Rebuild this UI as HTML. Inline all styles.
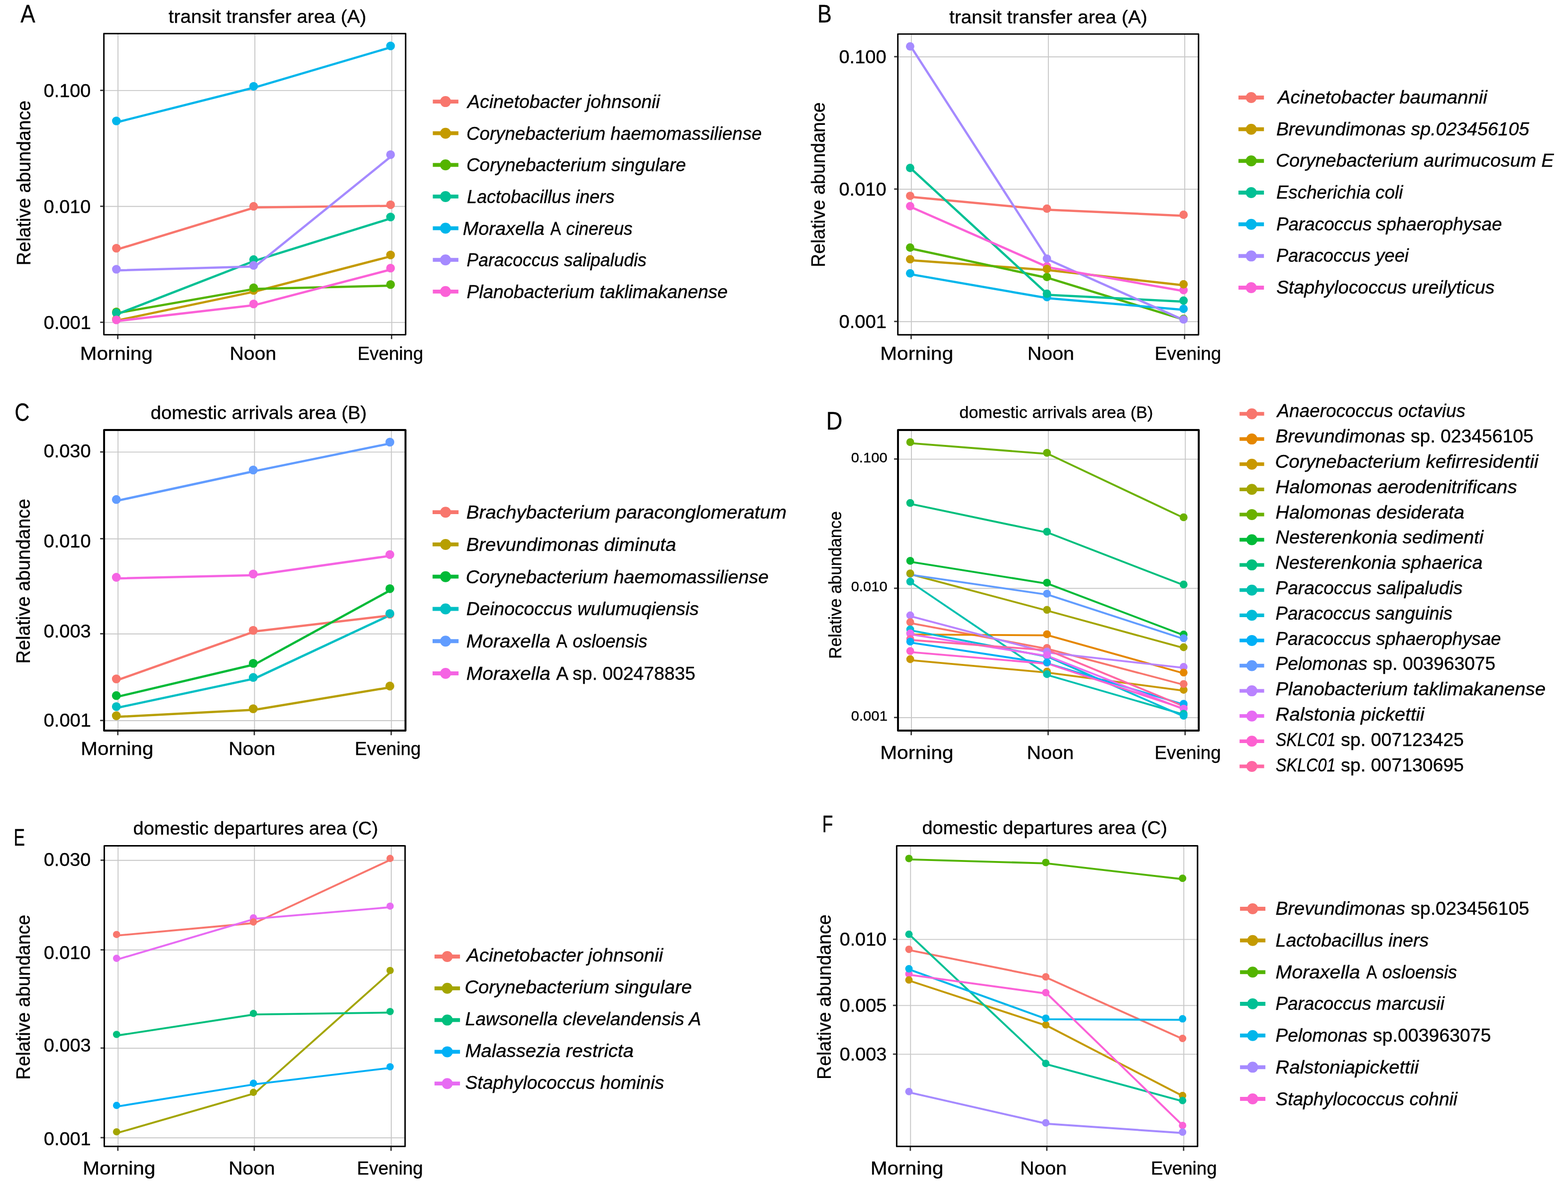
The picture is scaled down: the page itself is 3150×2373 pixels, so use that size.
<!DOCTYPE html>
<html lang="en"><head><meta charset="utf-8"><title>Relative abundance of species across time of day</title>
<style>
html,body{margin:0;padding:0;background:#fff;}
body{width:3150px;height:2373px;overflow:hidden;}
svg{display:block;font-family:"Liberation Sans",Arial,Helvetica,sans-serif;}
text{fill:#000;stroke:#000;stroke-width:0.35px;stroke-linejoin:round;}
</style></head><body>
<svg width="3150" height="2373" viewBox="0 0 3150 2373">
<rect x="0" y="0" width="3150" height="2373" fill="#fff"/>
<g>
<line x1="237.00" y1="67.50" x2="237.00" y2="672.60" stroke="#c8c8c8" stroke-width="1.90"/>
<line x1="512.00" y1="67.50" x2="512.00" y2="672.60" stroke="#c8c8c8" stroke-width="1.90"/>
<line x1="787.10" y1="67.50" x2="787.10" y2="672.60" stroke="#c8c8c8" stroke-width="1.90"/>
<line x1="208.70" y1="181.90" x2="814.90" y2="181.90" stroke="#c8c8c8" stroke-width="1.90"/>
<line x1="208.70" y1="414.80" x2="814.90" y2="414.80" stroke="#c8c8c8" stroke-width="1.90"/>
<line x1="208.70" y1="647.90" x2="814.90" y2="647.90" stroke="#c8c8c8" stroke-width="1.90"/>
<polyline points="236.50,500.90 512.20,416.80 787.30,413.60" fill="none" stroke="#F8766D" stroke-width="4.50" stroke-linejoin="round" stroke-linecap="butt"/>
<polyline points="236.50,643.60 512.20,585.80 787.30,514.40" fill="none" stroke="#C49A00" stroke-width="4.50" stroke-linejoin="round" stroke-linecap="butt"/>
<polyline points="236.50,628.90 512.20,580.40 787.30,574.00" fill="none" stroke="#53B400" stroke-width="4.50" stroke-linejoin="round" stroke-linecap="butt"/>
<polyline points="236.50,630.80 512.20,523.80 787.30,438.20" fill="none" stroke="#00C094" stroke-width="4.50" stroke-linejoin="round" stroke-linecap="butt"/>
<polyline points="236.50,245.20 512.20,175.60 787.30,94.40" fill="none" stroke="#00B6EB" stroke-width="4.50" stroke-linejoin="round" stroke-linecap="butt"/>
<polyline points="236.50,543.20 512.20,535.40 787.30,313.00" fill="none" stroke="#A58AFF" stroke-width="4.50" stroke-linejoin="round" stroke-linecap="butt"/>
<polyline points="236.50,644.90 512.20,612.90 787.30,541.00" fill="none" stroke="#FB61D7" stroke-width="4.50" stroke-linejoin="round" stroke-linecap="butt"/>
<circle cx="233.80" cy="498.70" r="8.75" fill="#F8766D"/>
<circle cx="233.80" cy="641.40" r="8.75" fill="#C49A00"/>
<circle cx="233.80" cy="626.70" r="8.75" fill="#53B400"/>
<circle cx="233.80" cy="628.60" r="8.75" fill="#00C094"/>
<circle cx="233.80" cy="243.00" r="8.75" fill="#00B6EB"/>
<circle cx="233.80" cy="541.00" r="8.75" fill="#A58AFF"/>
<circle cx="233.80" cy="642.70" r="8.75" fill="#FB61D7"/>
<circle cx="509.50" cy="414.60" r="8.75" fill="#F8766D"/>
<circle cx="509.50" cy="583.60" r="8.75" fill="#C49A00"/>
<circle cx="509.50" cy="578.20" r="8.75" fill="#53B400"/>
<circle cx="509.50" cy="521.60" r="8.75" fill="#00C094"/>
<circle cx="509.50" cy="173.40" r="8.75" fill="#00B6EB"/>
<circle cx="509.50" cy="533.20" r="8.75" fill="#A58AFF"/>
<circle cx="509.50" cy="610.70" r="8.75" fill="#FB61D7"/>
<circle cx="784.60" cy="411.40" r="8.75" fill="#F8766D"/>
<circle cx="784.60" cy="512.20" r="8.75" fill="#C49A00"/>
<circle cx="784.60" cy="571.80" r="8.75" fill="#53B400"/>
<circle cx="784.60" cy="436.00" r="8.75" fill="#00C094"/>
<circle cx="784.60" cy="92.20" r="8.75" fill="#00B6EB"/>
<circle cx="784.60" cy="310.80" r="8.75" fill="#A58AFF"/>
<circle cx="784.60" cy="538.80" r="8.75" fill="#FB61D7"/>
<rect x="208.70" y="67.50" width="606.20" height="605.10" fill="none" stroke="#000" stroke-width="2.90" stroke-linejoin="round"/>
<line x1="236.60" y1="674.05" x2="236.60" y2="681.35" stroke="#333333" stroke-width="2.70"/>
<line x1="511.60" y1="674.05" x2="511.60" y2="681.35" stroke="#333333" stroke-width="2.70"/>
<line x1="786.70" y1="674.05" x2="786.70" y2="681.35" stroke="#333333" stroke-width="2.70"/>
<line x1="201.25" y1="181.60" x2="207.25" y2="181.60" stroke="#333333" stroke-width="2.70"/>
<line x1="201.25" y1="414.50" x2="207.25" y2="414.50" stroke="#333333" stroke-width="2.70"/>
<line x1="201.25" y1="647.60" x2="207.25" y2="647.60" stroke="#333333" stroke-width="2.70"/>
<text transform="translate(87.79,195.20) scale(1.0163,1)" font-size="37.21">0.100</text>
<text transform="translate(87.79,428.10) scale(1.0163,1)" font-size="37.21">0.010</text>
<text transform="translate(87.78,661.20) scale(1.0205,1)" font-size="37.21">0.001</text>
<text transform="translate(160.77,722.60) scale(1.0987,1)" font-size="36.77">Morning</text>
<text transform="translate(461.57,722.60) scale(1.0635,1)" font-size="36.77">Noon</text>
<text transform="translate(718.17,722.60) scale(0.9946,1)" font-size="36.77">Evening</text>
<text transform="translate(338.62,45.90) scale(1.0227,1)" font-size="37.79">transit transfer area (A)</text>
<text transform="translate(41.20,45.30) scale(0.8798,1)" font-size="50.25">A</text>
<text transform="translate(60.50,533.30) rotate(-90) scale(0.9813,1)" font-size="38.23">Relative abundance</text>
<line x1="869.50" y1="204.10" x2="920.90" y2="204.10" stroke="#F8766D" stroke-width="7.80"/>
<circle cx="895.00" cy="204.10" r="11.00" fill="#F8766D"/>
<text transform="translate(939.07,217.00) scale(1.0261,1)" font-size="36.48" font-style="italic">Acinetobacter johnsonii</text>
<line x1="869.50" y1="267.72" x2="920.90" y2="267.72" stroke="#C49A00" stroke-width="7.80"/>
<circle cx="895.00" cy="267.72" r="11.00" fill="#C49A00"/>
<text transform="translate(936.98,280.65) scale(1.0064,1)" font-size="36.48" font-style="italic">Corynebacterium haemomassiliense</text>
<line x1="869.50" y1="331.34" x2="920.90" y2="331.34" stroke="#53B400" stroke-width="7.80"/>
<circle cx="895.00" cy="331.34" r="11.00" fill="#53B400"/>
<text transform="translate(936.97,344.30) scale(1.0118,1)" font-size="36.48" font-style="italic">Corynebacterium singulare</text>
<line x1="869.50" y1="394.96" x2="920.90" y2="394.96" stroke="#00C094" stroke-width="7.80"/>
<circle cx="895.00" cy="394.96" r="11.00" fill="#00C094"/>
<text transform="translate(937.92,407.95) scale(0.9891,1)" font-size="36.48" font-style="italic">Lactobacillus iners</text>
<line x1="869.50" y1="458.58" x2="920.90" y2="458.58" stroke="#00B6EB" stroke-width="7.80"/>
<circle cx="895.00" cy="458.58" r="11.00" fill="#00B6EB"/>
<text transform="translate(929.76,471.60) scale(1.0381,1)" font-size="36.48" font-style="italic">Moraxella</text>
<text transform="translate(1105.40,471.60) scale(0.8821,1)" font-size="36.48">A</text>
<text transform="translate(1137.24,471.60) scale(0.9685,1)" font-size="36.48" font-style="italic">cinereus</text>
<line x1="869.50" y1="522.20" x2="920.90" y2="522.20" stroke="#A58AFF" stroke-width="7.80"/>
<circle cx="895.00" cy="522.20" r="11.00" fill="#A58AFF"/>
<text transform="translate(937.53,535.25) scale(0.9740,1)" font-size="36.48" font-style="italic">Paracoccus salipaludis</text>
<line x1="869.50" y1="585.82" x2="920.90" y2="585.82" stroke="#FB61D7" stroke-width="7.80"/>
<circle cx="895.00" cy="585.82" r="11.00" fill="#FB61D7"/>
<text transform="translate(937.49,598.90) scale(1.0146,1)" font-size="36.48" font-style="italic">Planobacterium taklimakanense</text>
</g>
<g>
<line x1="1830.80" y1="68.40" x2="1830.80" y2="672.70" stroke="#c8c8c8" stroke-width="1.90"/>
<line x1="2106.10" y1="68.40" x2="2106.10" y2="672.70" stroke="#c8c8c8" stroke-width="1.90"/>
<line x1="2380.10" y1="68.40" x2="2380.10" y2="672.70" stroke="#c8c8c8" stroke-width="1.90"/>
<line x1="1803.70" y1="114.20" x2="2407.80" y2="114.20" stroke="#c8c8c8" stroke-width="1.90"/>
<line x1="1803.70" y1="380.20" x2="2407.80" y2="380.20" stroke="#c8c8c8" stroke-width="1.90"/>
<line x1="1803.70" y1="646.20" x2="2407.80" y2="646.20" stroke="#c8c8c8" stroke-width="1.90"/>
<polyline points="1831.10,395.80 2105.90,421.40 2380.40,433.70" fill="none" stroke="#F8766D" stroke-width="4.50" stroke-linejoin="round" stroke-linecap="butt"/>
<polyline points="1831.10,523.10 2105.90,542.70 2380.40,573.50" fill="none" stroke="#C49A00" stroke-width="4.50" stroke-linejoin="round" stroke-linecap="butt"/>
<polyline points="1831.10,499.70 2105.90,558.70 2380.40,642.90" fill="none" stroke="#53B400" stroke-width="4.50" stroke-linejoin="round" stroke-linecap="butt"/>
<polyline points="1831.10,339.70 2105.90,592.40 2380.40,606.20" fill="none" stroke="#00C094" stroke-width="4.50" stroke-linejoin="round" stroke-linecap="butt"/>
<polyline points="1831.10,551.40 2105.90,599.30 2380.40,622.70" fill="none" stroke="#00B6EB" stroke-width="4.50" stroke-linejoin="round" stroke-linecap="butt"/>
<polyline points="1831.10,95.50 2105.90,521.80 2380.40,644.10" fill="none" stroke="#A58AFF" stroke-width="4.50" stroke-linejoin="round" stroke-linecap="butt"/>
<polyline points="1831.10,416.50 2105.90,537.10 2380.40,585.30" fill="none" stroke="#FB61D7" stroke-width="4.50" stroke-linejoin="round" stroke-linecap="butt"/>
<circle cx="1828.40" cy="414.30" r="8.45" fill="#FB61D7"/>
<circle cx="1828.40" cy="549.20" r="8.45" fill="#00B6EB"/>
<circle cx="1828.40" cy="497.50" r="8.45" fill="#53B400"/>
<circle cx="1828.40" cy="520.90" r="8.45" fill="#C49A00"/>
<circle cx="1828.40" cy="337.50" r="8.45" fill="#00C094"/>
<circle cx="1828.40" cy="393.60" r="8.45" fill="#F8766D"/>
<circle cx="1828.40" cy="93.30" r="8.45" fill="#A58AFF"/>
<circle cx="2103.20" cy="534.90" r="8.45" fill="#FB61D7"/>
<circle cx="2103.20" cy="597.10" r="8.45" fill="#00B6EB"/>
<circle cx="2103.20" cy="556.50" r="8.45" fill="#53B400"/>
<circle cx="2103.20" cy="540.50" r="8.45" fill="#C49A00"/>
<circle cx="2103.20" cy="590.20" r="8.45" fill="#00C094"/>
<circle cx="2103.20" cy="419.20" r="8.45" fill="#F8766D"/>
<circle cx="2103.20" cy="519.60" r="8.45" fill="#A58AFF"/>
<circle cx="2377.70" cy="583.10" r="8.45" fill="#FB61D7"/>
<circle cx="2377.70" cy="620.50" r="8.45" fill="#00B6EB"/>
<circle cx="2377.70" cy="640.70" r="8.45" fill="#53B400"/>
<circle cx="2377.70" cy="571.30" r="8.45" fill="#C49A00"/>
<circle cx="2377.70" cy="604.00" r="8.45" fill="#00C094"/>
<circle cx="2377.70" cy="431.50" r="8.45" fill="#F8766D"/>
<circle cx="2377.70" cy="641.90" r="8.45" fill="#A58AFF"/>
<rect x="1803.70" y="68.40" width="604.10" height="604.30" fill="none" stroke="#000" stroke-width="2.90" stroke-linejoin="round"/>
<line x1="1830.40" y1="674.15" x2="1830.40" y2="681.45" stroke="#333333" stroke-width="2.70"/>
<line x1="2105.70" y1="674.15" x2="2105.70" y2="681.45" stroke="#333333" stroke-width="2.70"/>
<line x1="2379.70" y1="674.15" x2="2379.70" y2="681.45" stroke="#333333" stroke-width="2.70"/>
<line x1="1796.25" y1="113.90" x2="1802.25" y2="113.90" stroke="#333333" stroke-width="2.70"/>
<line x1="1796.25" y1="379.90" x2="1802.25" y2="379.90" stroke="#333333" stroke-width="2.70"/>
<line x1="1796.25" y1="645.90" x2="1802.25" y2="645.90" stroke="#333333" stroke-width="2.70"/>
<text transform="translate(1685.48,126.60) scale(1.0218,1)" font-size="37.21">0.100</text>
<text transform="translate(1685.48,392.60) scale(1.0218,1)" font-size="37.21">0.010</text>
<text transform="translate(1685.47,658.60) scale(1.0260,1)" font-size="37.21">0.001</text>
<text transform="translate(1768.14,722.60) scale(1.1066,1)" font-size="36.77">Morning</text>
<text transform="translate(2063.95,722.60) scale(1.0696,1)" font-size="36.77">Noon</text>
<text transform="translate(2319.84,722.60) scale(1.0048,1)" font-size="36.77">Evening</text>
<text transform="translate(1906.92,46.90) scale(1.0248,1)" font-size="37.79">transit transfer area (A)</text>
<text transform="translate(1642.28,44.90) scale(0.8716,1)" font-size="49.11">B</text>
<text transform="translate(1657.10,537.00) rotate(-90) scale(0.9816,1)" font-size="38.23">Relative abundance</text>
<line x1="2488.00" y1="196.00" x2="2539.20" y2="196.00" stroke="#F8766D" stroke-width="7.80"/>
<circle cx="2513.60" cy="196.00" r="11.00" fill="#F8766D"/>
<text transform="translate(2566.91,208.00) scale(1.0479,1)" font-size="36.48" font-style="italic">Acinetobacter baumannii</text>
<line x1="2488.00" y1="259.67" x2="2539.20" y2="259.67" stroke="#C49A00" stroke-width="7.80"/>
<circle cx="2513.60" cy="259.67" r="11.00" fill="#C49A00"/>
<text transform="translate(2563.88,271.67) scale(1.0272,1)" font-size="36.48" font-style="italic">Brevundimonas sp.023456105</text>
<line x1="2488.00" y1="323.34" x2="2539.20" y2="323.34" stroke="#53B400" stroke-width="7.80"/>
<circle cx="2513.60" cy="323.34" r="11.00" fill="#53B400"/>
<text transform="translate(2562.93,335.34) scale(1.0325,1)" font-size="36.48" font-style="italic">Corynebacterium aurimucosum E</text>
<line x1="2488.00" y1="387.01" x2="2539.20" y2="387.01" stroke="#00C094" stroke-width="7.80"/>
<circle cx="2513.60" cy="387.01" r="11.00" fill="#00C094"/>
<text transform="translate(2563.90,399.01) scale(1.0040,1)" font-size="36.48" font-style="italic">Escherichia coli</text>
<line x1="2488.00" y1="450.68" x2="2539.20" y2="450.68" stroke="#00B6EB" stroke-width="7.80"/>
<circle cx="2513.60" cy="450.68" r="11.00" fill="#00B6EB"/>
<text transform="translate(2563.90,462.68) scale(1.0073,1)" font-size="36.48" font-style="italic">Paracoccus sphaerophysae</text>
<line x1="2488.00" y1="514.35" x2="2539.20" y2="514.35" stroke="#A58AFF" stroke-width="7.80"/>
<circle cx="2513.60" cy="514.35" r="11.00" fill="#A58AFF"/>
<text transform="translate(2563.91,526.35) scale(0.9943,1)" font-size="36.48" font-style="italic">Paracoccus yeei</text>
<line x1="2488.00" y1="578.02" x2="2539.20" y2="578.02" stroke="#FB61D7" stroke-width="7.80"/>
<circle cx="2513.60" cy="578.02" r="11.00" fill="#FB61D7"/>
<text transform="translate(2563.88,590.02) scale(1.0251,1)" font-size="36.48" font-style="italic">Staphylococcus ureilyticus</text>
</g>
<g>
<line x1="237.10" y1="864.00" x2="237.10" y2="1468.00" stroke="#c8c8c8" stroke-width="1.90"/>
<line x1="511.30" y1="864.00" x2="511.30" y2="1468.00" stroke="#c8c8c8" stroke-width="1.90"/>
<line x1="786.30" y1="864.00" x2="786.30" y2="1468.00" stroke="#c8c8c8" stroke-width="1.90"/>
<line x1="209.10" y1="908.40" x2="814.60" y2="908.40" stroke="#c8c8c8" stroke-width="1.90"/>
<line x1="209.10" y1="1082.70" x2="814.60" y2="1082.70" stroke="#c8c8c8" stroke-width="1.90"/>
<line x1="209.10" y1="1273.70" x2="814.60" y2="1273.70" stroke="#c8c8c8" stroke-width="1.90"/>
<line x1="209.10" y1="1448.00" x2="814.60" y2="1448.00" stroke="#c8c8c8" stroke-width="1.90"/>
<polyline points="236.40,1366.30 511.40,1268.80 785.90,1236.40" fill="none" stroke="#F8766D" stroke-width="4.50" stroke-linejoin="round" stroke-linecap="butt"/>
<polyline points="236.40,1440.30 511.40,1426.30 785.90,1380.70" fill="none" stroke="#B79F00" stroke-width="4.50" stroke-linejoin="round" stroke-linecap="butt"/>
<polyline points="236.40,1399.90 511.40,1335.10 785.90,1185.00" fill="none" stroke="#00BA38" stroke-width="4.50" stroke-linejoin="round" stroke-linecap="butt"/>
<polyline points="236.40,1422.00 511.40,1363.40 785.90,1235.00" fill="none" stroke="#00BFC4" stroke-width="4.50" stroke-linejoin="round" stroke-linecap="butt"/>
<polyline points="236.40,1005.90 511.40,946.60 785.90,890.60" fill="none" stroke="#619CFF" stroke-width="4.50" stroke-linejoin="round" stroke-linecap="butt"/>
<polyline points="236.40,1162.20 511.40,1155.60 785.90,1116.50" fill="none" stroke="#F564E3" stroke-width="4.50" stroke-linejoin="round" stroke-linecap="butt"/>
<circle cx="233.70" cy="1364.10" r="8.90" fill="#F8766D"/>
<circle cx="233.70" cy="1438.10" r="8.90" fill="#B79F00"/>
<circle cx="233.70" cy="1397.70" r="8.90" fill="#00BA38"/>
<circle cx="233.70" cy="1419.80" r="8.90" fill="#00BFC4"/>
<circle cx="233.70" cy="1003.70" r="8.90" fill="#619CFF"/>
<circle cx="233.70" cy="1160.00" r="8.90" fill="#F564E3"/>
<circle cx="508.70" cy="1266.60" r="8.90" fill="#F8766D"/>
<circle cx="508.70" cy="1424.10" r="8.90" fill="#B79F00"/>
<circle cx="508.70" cy="1332.90" r="8.90" fill="#00BA38"/>
<circle cx="508.70" cy="1361.20" r="8.90" fill="#00BFC4"/>
<circle cx="508.70" cy="944.40" r="8.90" fill="#619CFF"/>
<circle cx="508.70" cy="1153.40" r="8.90" fill="#F564E3"/>
<circle cx="783.20" cy="1234.20" r="8.90" fill="#F8766D"/>
<circle cx="783.20" cy="1378.50" r="8.90" fill="#B79F00"/>
<circle cx="783.20" cy="1182.80" r="8.90" fill="#00BA38"/>
<circle cx="783.20" cy="1232.80" r="8.90" fill="#00BFC4"/>
<circle cx="783.20" cy="888.40" r="8.90" fill="#619CFF"/>
<circle cx="783.20" cy="1114.30" r="8.90" fill="#F564E3"/>
<rect x="209.10" y="864.00" width="605.50" height="604.00" fill="none" stroke="#000" stroke-width="3.90" stroke-linejoin="round"/>
<line x1="236.70" y1="1469.95" x2="236.70" y2="1477.25" stroke="#333333" stroke-width="2.70"/>
<line x1="510.90" y1="1469.95" x2="510.90" y2="1477.25" stroke="#333333" stroke-width="2.70"/>
<line x1="785.90" y1="1469.95" x2="785.90" y2="1477.25" stroke="#333333" stroke-width="2.70"/>
<line x1="201.15" y1="908.10" x2="207.15" y2="908.10" stroke="#333333" stroke-width="2.70"/>
<line x1="201.15" y1="1082.40" x2="207.15" y2="1082.40" stroke="#333333" stroke-width="2.70"/>
<line x1="201.15" y1="1273.40" x2="207.15" y2="1273.40" stroke="#333333" stroke-width="2.70"/>
<line x1="201.15" y1="1447.70" x2="207.15" y2="1447.70" stroke="#333333" stroke-width="2.70"/>
<text transform="translate(87.68,918.70) scale(1.0185,1)" font-size="37.21">0.030</text>
<text transform="translate(87.68,1099.60) scale(1.0185,1)" font-size="37.21">0.010</text>
<text transform="translate(87.68,1280.60) scale(1.0206,1)" font-size="37.21">0.003</text>
<text transform="translate(87.68,1460.40) scale(1.0227,1)" font-size="37.21">0.001</text>
<text transform="translate(162.37,1516.60) scale(1.0987,1)" font-size="36.77">Morning</text>
<text transform="translate(459.26,1516.60) scale(1.0672,1)" font-size="36.77">Noon</text>
<text transform="translate(712.76,1516.60) scale(0.9993,1)" font-size="36.77">Evening</text>
<text transform="translate(302.47,842.20) scale(1.0092,1)" font-size="37.79">domestic arrivals area (B)</text>
<text transform="translate(29.43,846.20) scale(0.8410,1)" font-size="49.25">C</text>
<text transform="translate(60.00,1333.60) rotate(-90) scale(0.9816,1)" font-size="38.23">Relative abundance</text>
<line x1="869.00" y1="1029.20" x2="921.20" y2="1029.20" stroke="#F8766D" stroke-width="7.80"/>
<circle cx="895.10" cy="1029.20" r="11.00" fill="#F8766D"/>
<text transform="translate(936.74,1042.00) scale(1.0579,1)" font-size="36.48" font-style="italic">Brachybacterium paraconglomeratum</text>
<line x1="869.00" y1="1093.96" x2="921.20" y2="1093.96" stroke="#B79F00" stroke-width="7.80"/>
<circle cx="895.10" cy="1093.96" r="11.00" fill="#B79F00"/>
<text transform="translate(936.75,1106.76) scale(1.0501,1)" font-size="36.48" font-style="italic">Brevundimonas diminuta</text>
<line x1="869.00" y1="1158.72" x2="921.20" y2="1158.72" stroke="#00BA38" stroke-width="7.80"/>
<circle cx="895.10" cy="1158.72" r="11.00" fill="#00BA38"/>
<text transform="translate(935.83,1171.52) scale(1.0311,1)" font-size="36.48" font-style="italic">Corynebacterium haemomassiliense</text>
<line x1="869.00" y1="1223.48" x2="921.20" y2="1223.48" stroke="#00BFC4" stroke-width="7.80"/>
<circle cx="895.10" cy="1223.48" r="11.00" fill="#00BFC4"/>
<text transform="translate(936.78,1236.28) scale(1.0191,1)" font-size="36.48" font-style="italic">Deinococcus wulumuqiensis</text>
<line x1="869.00" y1="1288.24" x2="921.20" y2="1288.24" stroke="#619CFF" stroke-width="7.80"/>
<circle cx="895.10" cy="1288.24" r="11.00" fill="#619CFF"/>
<text transform="translate(936.73,1301.04) scale(1.0688,1)" font-size="36.48" font-style="italic">Moraxella</text>
<text transform="translate(1117.20,1301.04) scale(0.9192,1)" font-size="36.48">A</text>
<text transform="translate(1150.42,1301.04) scale(0.9873,1)" font-size="36.48" font-style="italic">osloensis</text>
<line x1="869.00" y1="1353.00" x2="921.20" y2="1353.00" stroke="#F564E3" stroke-width="7.80"/>
<circle cx="895.10" cy="1353.00" r="11.00" fill="#F564E3"/>
<text transform="translate(936.73,1365.80) scale(1.0688,1)" font-size="36.48" font-style="italic">Moraxella</text>
<text transform="translate(1117.20,1365.80) scale(1.0219,1)" font-size="36.48">A sp. 002478835</text>
</g>
<g>
<line x1="1831.00" y1="864.00" x2="1831.00" y2="1468.00" stroke="#c8c8c8" stroke-width="1.90"/>
<line x1="2106.00" y1="864.00" x2="2106.00" y2="1468.00" stroke="#c8c8c8" stroke-width="1.90"/>
<line x1="2381.20" y1="864.00" x2="2381.20" y2="1468.00" stroke="#c8c8c8" stroke-width="1.90"/>
<line x1="1804.00" y1="922.60" x2="2408.20" y2="922.60" stroke="#c8c8c8" stroke-width="1.90"/>
<line x1="1804.00" y1="1182.30" x2="2408.20" y2="1182.30" stroke="#c8c8c8" stroke-width="1.90"/>
<line x1="1804.00" y1="1442.00" x2="2408.20" y2="1442.00" stroke="#c8c8c8" stroke-width="1.90"/>
<polyline points="1831.00,1252.30 2105.70,1304.10 2380.20,1376.50" fill="none" stroke="#F8766D" stroke-width="3.80" stroke-linejoin="round" stroke-linecap="butt"/>
<polyline points="1831.00,1274.80 2105.70,1276.60 2380.20,1353.50" fill="none" stroke="#E58700" stroke-width="3.80" stroke-linejoin="round" stroke-linecap="butt"/>
<polyline points="1831.00,1326.70 2105.70,1351.60 2380.20,1388.20" fill="none" stroke="#C99800" stroke-width="3.80" stroke-linejoin="round" stroke-linecap="butt"/>
<polyline points="1831.00,1154.30 2105.70,1227.50 2380.20,1302.70" fill="none" stroke="#A3A500" stroke-width="3.80" stroke-linejoin="round" stroke-linecap="butt"/>
<polyline points="1831.00,890.60 2105.70,912.10 2380.20,1041.60" fill="none" stroke="#6BB100" stroke-width="3.80" stroke-linejoin="round" stroke-linecap="butt"/>
<polyline points="1831.00,1129.10 2105.70,1173.10 2380.20,1277.20" fill="none" stroke="#00BA38" stroke-width="3.80" stroke-linejoin="round" stroke-linecap="butt"/>
<polyline points="1831.00,1012.80 2105.70,1070.50 2380.20,1176.60" fill="none" stroke="#00BF7D" stroke-width="3.80" stroke-linejoin="round" stroke-linecap="butt"/>
<polyline points="1831.00,1170.80 2105.70,1356.70 2380.20,1436.40" fill="none" stroke="#00C0AF" stroke-width="3.80" stroke-linejoin="round" stroke-linecap="butt"/>
<polyline points="1831.00,1266.80 2105.70,1319.90 2380.20,1440.30" fill="none" stroke="#00BCD8" stroke-width="3.80" stroke-linejoin="round" stroke-linecap="butt"/>
<polyline points="1831.00,1291.30 2105.70,1333.20 2380.20,1416.30" fill="none" stroke="#00B0F6" stroke-width="3.80" stroke-linejoin="round" stroke-linecap="butt"/>
<polyline points="1831.00,1155.20 2105.70,1195.10 2380.20,1284.50" fill="none" stroke="#619CFF" stroke-width="3.80" stroke-linejoin="round" stroke-linecap="butt"/>
<polyline points="1831.00,1238.70 2105.70,1311.40 2380.20,1342.20" fill="none" stroke="#B983FF" stroke-width="3.80" stroke-linejoin="round" stroke-linecap="butt"/>
<polyline points="1831.00,1274.80 2105.70,1318.40 2380.20,1426.10" fill="none" stroke="#E76BF3" stroke-width="3.80" stroke-linejoin="round" stroke-linecap="butt"/>
<polyline points="1831.00,1310.40 2105.70,1333.80 2380.20,1424.50" fill="none" stroke="#FD61D1" stroke-width="3.80" stroke-linejoin="round" stroke-linecap="butt"/>
<polyline points="1831.00,1286.00 2105.70,1306.70 2380.20,1419.90" fill="none" stroke="#FF67A4" stroke-width="3.80" stroke-linejoin="round" stroke-linecap="butt"/>
<circle cx="1828.60" cy="888.40" r="7.90" fill="#6BB100"/>
<circle cx="1828.60" cy="1010.60" r="7.90" fill="#00BF7D"/>
<circle cx="1828.60" cy="1126.90" r="7.90" fill="#00BA38"/>
<circle cx="1828.60" cy="1153.00" r="7.90" fill="#619CFF"/>
<circle cx="1828.60" cy="1152.10" r="7.90" fill="#A3A500"/>
<circle cx="1828.60" cy="1168.60" r="7.90" fill="#00C0AF"/>
<circle cx="1828.60" cy="1236.50" r="7.90" fill="#B983FF"/>
<circle cx="1828.60" cy="1250.10" r="7.90" fill="#F8766D"/>
<circle cx="1828.60" cy="1272.60" r="7.90" fill="#E58700"/>
<circle cx="1828.60" cy="1264.60" r="7.90" fill="#00BCD8"/>
<circle cx="1828.60" cy="1272.60" r="7.90" fill="#E76BF3"/>
<circle cx="1828.60" cy="1283.80" r="7.90" fill="#FF67A4"/>
<circle cx="1828.60" cy="1289.10" r="7.90" fill="#00B0F6"/>
<circle cx="1828.60" cy="1308.20" r="7.90" fill="#FD61D1"/>
<circle cx="1828.60" cy="1324.50" r="7.90" fill="#C99800"/>
<circle cx="2103.30" cy="909.90" r="7.90" fill="#6BB100"/>
<circle cx="2103.30" cy="1068.30" r="7.90" fill="#00BF7D"/>
<circle cx="2103.30" cy="1170.90" r="7.90" fill="#00BA38"/>
<circle cx="2103.30" cy="1192.90" r="7.90" fill="#619CFF"/>
<circle cx="2103.30" cy="1225.30" r="7.90" fill="#A3A500"/>
<circle cx="2103.30" cy="1274.40" r="7.90" fill="#E58700"/>
<circle cx="2103.30" cy="1304.50" r="7.90" fill="#FF67A4"/>
<circle cx="2103.30" cy="1301.90" r="7.90" fill="#F8766D"/>
<circle cx="2103.30" cy="1309.20" r="7.90" fill="#B983FF"/>
<circle cx="2103.30" cy="1317.70" r="7.90" fill="#00BCD8"/>
<circle cx="2103.30" cy="1316.20" r="7.90" fill="#E76BF3"/>
<circle cx="2103.30" cy="1331.60" r="7.90" fill="#FD61D1"/>
<circle cx="2103.30" cy="1331.00" r="7.90" fill="#00B0F6"/>
<circle cx="2103.30" cy="1349.40" r="7.90" fill="#C99800"/>
<circle cx="2103.30" cy="1354.50" r="7.90" fill="#00C0AF"/>
<circle cx="2377.80" cy="1039.40" r="7.90" fill="#6BB100"/>
<circle cx="2377.80" cy="1174.40" r="7.90" fill="#00BF7D"/>
<circle cx="2377.80" cy="1275.00" r="7.90" fill="#00BA38"/>
<circle cx="2377.80" cy="1282.30" r="7.90" fill="#619CFF"/>
<circle cx="2377.80" cy="1300.50" r="7.90" fill="#A3A500"/>
<circle cx="2377.80" cy="1340.00" r="7.90" fill="#B983FF"/>
<circle cx="2377.80" cy="1351.30" r="7.90" fill="#E58700"/>
<circle cx="2377.80" cy="1386.00" r="7.90" fill="#C99800"/>
<circle cx="2377.80" cy="1374.30" r="7.90" fill="#F8766D"/>
<circle cx="2377.80" cy="1417.70" r="7.90" fill="#FF67A4"/>
<circle cx="2377.80" cy="1422.30" r="7.90" fill="#FD61D1"/>
<circle cx="2377.80" cy="1414.10" r="7.90" fill="#00B0F6"/>
<circle cx="2377.80" cy="1423.90" r="7.90" fill="#E76BF3"/>
<circle cx="2377.80" cy="1434.20" r="7.90" fill="#00C0AF"/>
<circle cx="2377.80" cy="1438.10" r="7.90" fill="#00BCD8"/>
<rect x="1804.00" y="864.00" width="604.20" height="604.00" fill="none" stroke="#000" stroke-width="3.90" stroke-linejoin="round"/>
<line x1="1830.60" y1="1469.95" x2="1830.60" y2="1477.25" stroke="#333333" stroke-width="2.70"/>
<line x1="2105.60" y1="1469.95" x2="2105.60" y2="1477.25" stroke="#333333" stroke-width="2.70"/>
<line x1="2380.80" y1="1469.95" x2="2380.80" y2="1477.25" stroke="#333333" stroke-width="2.70"/>
<line x1="1796.05" y1="922.30" x2="1802.05" y2="922.30" stroke="#333333" stroke-width="2.70"/>
<line x1="1796.05" y1="1182.00" x2="1802.05" y2="1182.00" stroke="#333333" stroke-width="2.70"/>
<line x1="1796.05" y1="1441.70" x2="1802.05" y2="1441.70" stroke="#333333" stroke-width="2.70"/>
<text transform="translate(1709.63,928.60) scale(1.0248,1)" font-size="28.49">0.100</text>
<text transform="translate(1709.63,1188.30) scale(1.0248,1)" font-size="28.49">0.010</text>
<text transform="translate(1709.63,1448.00) scale(1.0291,1)" font-size="28.49">0.001</text>
<text transform="translate(1768.14,1525.00) scale(1.1097,1)" font-size="36.77">Morning</text>
<text transform="translate(2062.85,1525.00) scale(1.0720,1)" font-size="36.77">Noon</text>
<text transform="translate(2319.55,1525.00) scale(1.0024,1)" font-size="36.77">Evening</text>
<text transform="translate(1927.33,840.00) scale(1.0131,1)" font-size="33.72">domestic arrivals area (B)</text>
<text transform="translate(1659.68,862.60) scale(0.9180,1)" font-size="49.25">D</text>
<text transform="translate(1690.00,1323.68) rotate(-90) scale(0.9824,1)" font-size="34.16">Relative abundance</text>
<line x1="2490.20" y1="831.50" x2="2539.60" y2="831.50" stroke="#F8766D" stroke-width="7.30"/>
<circle cx="2514.90" cy="831.50" r="11.00" fill="#F8766D"/>
<text transform="translate(2565.54,838.40) scale(1.0087,1)" font-size="36.48" font-style="italic">Anaerococcus octavius</text>
<line x1="2490.20" y1="882.10" x2="2539.60" y2="882.10" stroke="#E58700" stroke-width="7.30"/>
<circle cx="2514.90" cy="882.10" r="11.00" fill="#E58700"/>
<text transform="translate(2562.58,889.20) scale(1.0277,1)" font-size="36.48" font-style="italic">Brevundimonas</text>
<text transform="translate(2833.97,889.20) scale(1.0228,1)" font-size="36.48">sp. 023456105</text>
<line x1="2490.20" y1="932.70" x2="2539.60" y2="932.70" stroke="#C99800" stroke-width="7.30"/>
<circle cx="2514.90" cy="932.70" r="11.00" fill="#C99800"/>
<text transform="translate(2561.59,940.00) scale(1.0520,1)" font-size="36.48" font-style="italic">Corynebacterium kefirresidentii</text>
<line x1="2490.20" y1="983.30" x2="2539.60" y2="983.30" stroke="#A3A500" stroke-width="7.30"/>
<circle cx="2514.90" cy="983.30" r="11.00" fill="#A3A500"/>
<text transform="translate(2562.55,990.80) scale(1.0495,1)" font-size="36.48" font-style="italic">Halomonas aerodenitrificans</text>
<line x1="2490.20" y1="1033.90" x2="2539.60" y2="1033.90" stroke="#6BB100" stroke-width="7.30"/>
<circle cx="2514.90" cy="1033.90" r="11.00" fill="#6BB100"/>
<text transform="translate(2562.56,1041.60) scale(1.0391,1)" font-size="36.48" font-style="italic">Halomonas desiderata</text>
<line x1="2490.20" y1="1084.50" x2="2539.60" y2="1084.50" stroke="#00BA38" stroke-width="7.30"/>
<circle cx="2514.90" cy="1084.50" r="11.00" fill="#00BA38"/>
<text transform="translate(2562.56,1092.40) scale(1.0403,1)" font-size="36.48" font-style="italic">Nesterenkonia sedimenti</text>
<line x1="2490.20" y1="1135.10" x2="2539.60" y2="1135.10" stroke="#00BF7D" stroke-width="7.30"/>
<circle cx="2514.90" cy="1135.10" r="11.00" fill="#00BF7D"/>
<text transform="translate(2562.57,1143.20) scale(1.0309,1)" font-size="36.48" font-style="italic">Nesterenkonia sphaerica</text>
<line x1="2490.20" y1="1185.70" x2="2539.60" y2="1185.70" stroke="#00C0AF" stroke-width="7.30"/>
<circle cx="2514.90" cy="1185.70" r="11.00" fill="#00C0AF"/>
<text transform="translate(2562.59,1194.00) scale(1.0127,1)" font-size="36.48" font-style="italic">Paracoccus salipaludis</text>
<line x1="2490.20" y1="1236.30" x2="2539.60" y2="1236.30" stroke="#00BCD8" stroke-width="7.30"/>
<circle cx="2514.90" cy="1236.30" r="11.00" fill="#00BCD8"/>
<text transform="translate(2562.60,1244.80) scale(1.0013,1)" font-size="36.48" font-style="italic">Paracoccus sanguinis</text>
<line x1="2490.20" y1="1286.90" x2="2539.60" y2="1286.90" stroke="#00B0F6" stroke-width="7.30"/>
<circle cx="2514.90" cy="1286.90" r="11.00" fill="#00B0F6"/>
<text transform="translate(2562.60,1295.60) scale(1.0066,1)" font-size="36.48" font-style="italic">Paracoccus sphaerophysae</text>
<line x1="2490.20" y1="1337.50" x2="2539.60" y2="1337.50" stroke="#619CFF" stroke-width="7.30"/>
<circle cx="2514.90" cy="1337.50" r="11.00" fill="#619CFF"/>
<text transform="translate(2562.59,1346.40) scale(1.0107,1)" font-size="36.48" font-style="italic">Pelomonas</text>
<text transform="translate(2757.97,1346.40) scale(1.0207,1)" font-size="36.48">sp. 003963075</text>
<line x1="2490.20" y1="1388.10" x2="2539.60" y2="1388.10" stroke="#B983FF" stroke-width="7.30"/>
<circle cx="2514.90" cy="1388.10" r="11.00" fill="#B983FF"/>
<text transform="translate(2562.55,1397.20) scale(1.0496,1)" font-size="36.48" font-style="italic">Planobacterium taklimakanense</text>
<line x1="2490.20" y1="1438.70" x2="2539.60" y2="1438.70" stroke="#E76BF3" stroke-width="7.30"/>
<circle cx="2514.90" cy="1438.70" r="11.00" fill="#E76BF3"/>
<text transform="translate(2562.55,1448.00) scale(1.0538,1)" font-size="36.48" font-style="italic">Ralstonia pickettii</text>
<line x1="2490.20" y1="1489.30" x2="2539.60" y2="1489.30" stroke="#FD61D1" stroke-width="7.30"/>
<circle cx="2514.90" cy="1489.30" r="11.00" fill="#FD61D1"/>
<text transform="translate(2562.73,1498.80) scale(0.8876,1)" font-size="36.48" font-style="italic">SKLC01</text>
<text transform="translate(2693.77,1498.80) scale(1.0232,1)" font-size="36.48">sp. 007123425</text>
<line x1="2490.20" y1="1539.90" x2="2539.60" y2="1539.90" stroke="#FF67A4" stroke-width="7.30"/>
<circle cx="2514.90" cy="1539.90" r="11.00" fill="#FF67A4"/>
<text transform="translate(2562.73,1549.60) scale(0.8876,1)" font-size="36.48" font-style="italic">SKLC01</text>
<text transform="translate(2693.77,1549.60) scale(1.0232,1)" font-size="36.48">sp. 007130695</text>
</g>
<g>
<line x1="237.20" y1="1699.40" x2="237.20" y2="2303.60" stroke="#c8c8c8" stroke-width="1.90"/>
<line x1="511.20" y1="1699.40" x2="511.20" y2="2303.60" stroke="#c8c8c8" stroke-width="1.90"/>
<line x1="786.00" y1="1699.40" x2="786.00" y2="2303.60" stroke="#c8c8c8" stroke-width="1.90"/>
<line x1="209.50" y1="1728.70" x2="813.80" y2="1728.70" stroke="#c8c8c8" stroke-width="1.90"/>
<line x1="209.50" y1="1908.80" x2="813.80" y2="1908.80" stroke="#c8c8c8" stroke-width="1.90"/>
<line x1="209.50" y1="2106.20" x2="813.80" y2="2106.20" stroke="#c8c8c8" stroke-width="1.90"/>
<line x1="209.50" y1="2286.20" x2="813.80" y2="2286.20" stroke="#c8c8c8" stroke-width="1.90"/>
<polyline points="236.60,1879.70 511.50,1854.60 786.10,1726.90" fill="none" stroke="#F8766D" stroke-width="3.80" stroke-linejoin="round" stroke-linecap="butt"/>
<polyline points="236.60,2276.20 511.50,2196.90 786.10,1952.00" fill="none" stroke="#A3A500" stroke-width="3.80" stroke-linejoin="round" stroke-linecap="butt"/>
<polyline points="236.60,2080.50 511.50,2038.30 786.10,2034.50" fill="none" stroke="#00BF7D" stroke-width="3.80" stroke-linejoin="round" stroke-linecap="butt"/>
<polyline points="236.60,2223.10 511.50,2178.60 786.10,2145.50" fill="none" stroke="#00B0F6" stroke-width="3.80" stroke-linejoin="round" stroke-linecap="butt"/>
<polyline points="236.60,1927.60 511.50,1846.20 786.10,1822.70" fill="none" stroke="#E76BF3" stroke-width="3.80" stroke-linejoin="round" stroke-linecap="butt"/>
<circle cx="234.20" cy="2274.20" r="7.30" fill="#A3A500"/>
<circle cx="234.20" cy="2078.50" r="7.30" fill="#00BF7D"/>
<circle cx="234.20" cy="2221.10" r="7.30" fill="#00B0F6"/>
<circle cx="234.20" cy="1925.60" r="7.30" fill="#E76BF3"/>
<circle cx="234.20" cy="1877.70" r="7.30" fill="#F8766D"/>
<circle cx="509.10" cy="2194.90" r="7.30" fill="#A3A500"/>
<circle cx="509.10" cy="2036.30" r="7.30" fill="#00BF7D"/>
<circle cx="509.10" cy="2176.60" r="7.30" fill="#00B0F6"/>
<circle cx="509.10" cy="1844.20" r="7.30" fill="#E76BF3"/>
<circle cx="509.10" cy="1852.60" r="7.30" fill="#F8766D"/>
<circle cx="783.70" cy="1950.00" r="7.30" fill="#A3A500"/>
<circle cx="783.70" cy="2032.50" r="7.30" fill="#00BF7D"/>
<circle cx="783.70" cy="2143.50" r="7.30" fill="#00B0F6"/>
<circle cx="783.70" cy="1820.70" r="7.30" fill="#E76BF3"/>
<circle cx="783.70" cy="1724.90" r="7.30" fill="#F8766D"/>
<rect x="209.50" y="1699.40" width="604.30" height="604.20" fill="none" stroke="#000" stroke-width="3.00" stroke-linejoin="round"/>
<line x1="236.80" y1="2305.10" x2="236.80" y2="2312.40" stroke="#333333" stroke-width="2.70"/>
<line x1="510.80" y1="2305.10" x2="510.80" y2="2312.40" stroke="#333333" stroke-width="2.70"/>
<line x1="785.60" y1="2305.10" x2="785.60" y2="2312.40" stroke="#333333" stroke-width="2.70"/>
<line x1="202.00" y1="1728.40" x2="208.00" y2="1728.40" stroke="#333333" stroke-width="2.70"/>
<line x1="202.00" y1="1908.50" x2="208.00" y2="1908.50" stroke="#333333" stroke-width="2.70"/>
<line x1="202.00" y1="2105.90" x2="208.00" y2="2105.90" stroke="#333333" stroke-width="2.70"/>
<line x1="202.00" y1="2285.90" x2="208.00" y2="2285.90" stroke="#333333" stroke-width="2.70"/>
<text transform="translate(87.89,1739.80) scale(1.0140,1)" font-size="37.21">0.030</text>
<text transform="translate(87.89,1926.80) scale(1.0140,1)" font-size="37.21">0.010</text>
<text transform="translate(87.89,2113.40) scale(1.0161,1)" font-size="37.21">0.003</text>
<text transform="translate(87.88,2300.60) scale(1.0182,1)" font-size="37.21">0.001</text>
<text transform="translate(166.37,2359.80) scale(1.0987,1)" font-size="36.77">Morning</text>
<text transform="translate(459.17,2359.80) scale(1.0623,1)" font-size="36.77">Noon</text>
<text transform="translate(717.06,2359.80) scale(0.9985,1)" font-size="36.77">Evening</text>
<text transform="translate(267.59,1676.60) scale(1.0015,1)" font-size="37.79">domestic departures area (C)</text>
<text transform="translate(27.38,1698.70) scale(0.6933,1)" font-size="48.96">E</text>
<text transform="translate(60.40,2169.40) rotate(-90) scale(0.9816,1)" font-size="38.23">Relative abundance</text>
<line x1="872.90" y1="1922.00" x2="924.10" y2="1922.00" stroke="#F8766D" stroke-width="7.80"/>
<circle cx="898.50" cy="1922.00" r="11.00" fill="#F8766D"/>
<text transform="translate(937.51,1932.30) scale(1.0459,1)" font-size="36.48" font-style="italic">Acinetobacter johnsonii</text>
<line x1="872.90" y1="1985.80" x2="924.10" y2="1985.80" stroke="#A3A500" stroke-width="7.80"/>
<circle cx="898.50" cy="1985.80" r="11.00" fill="#A3A500"/>
<text transform="translate(933.50,1996.10) scale(1.0474,1)" font-size="36.48" font-style="italic">Corynebacterium singulare</text>
<line x1="872.90" y1="2049.60" x2="924.10" y2="2049.60" stroke="#00BF7D" stroke-width="7.80"/>
<circle cx="898.50" cy="2049.60" r="11.00" fill="#00BF7D"/>
<text transform="translate(934.48,2059.90) scale(1.0192,1)" font-size="36.48" font-style="italic">Lawsonella clevelandensis A</text>
<line x1="872.90" y1="2113.40" x2="924.10" y2="2113.40" stroke="#00B0F6" stroke-width="7.80"/>
<circle cx="898.50" cy="2113.40" r="11.00" fill="#00B0F6"/>
<text transform="translate(934.45,2123.70) scale(1.0505,1)" font-size="36.48" font-style="italic">Malassezia restricta</text>
<line x1="872.90" y1="2177.20" x2="924.10" y2="2177.20" stroke="#E76BF3" stroke-width="7.80"/>
<circle cx="898.50" cy="2177.20" r="11.00" fill="#E76BF3"/>
<text transform="translate(934.48,2187.50) scale(1.0215,1)" font-size="36.48" font-style="italic">Staphylococcus hominis</text>
</g>
<g>
<line x1="1829.20" y1="1699.40" x2="1829.20" y2="2303.60" stroke="#c8c8c8" stroke-width="1.90"/>
<line x1="2103.40" y1="1699.40" x2="2103.40" y2="2303.60" stroke="#c8c8c8" stroke-width="1.90"/>
<line x1="2378.20" y1="1699.40" x2="2378.20" y2="2303.60" stroke="#c8c8c8" stroke-width="1.90"/>
<line x1="1801.40" y1="1887.60" x2="2405.80" y2="1887.60" stroke="#c8c8c8" stroke-width="1.90"/>
<line x1="1801.40" y1="2020.40" x2="2405.80" y2="2020.40" stroke="#c8c8c8" stroke-width="1.90"/>
<line x1="1801.40" y1="2118.40" x2="2405.80" y2="2118.40" stroke="#c8c8c8" stroke-width="1.90"/>
<polyline points="1828.40,1909.40 2103.30,1964.80 2378.10,2088.50" fill="none" stroke="#F8766D" stroke-width="3.90" stroke-linejoin="round" stroke-linecap="butt"/>
<polyline points="1828.40,1971.00 2103.30,2061.10 2378.10,2203.20" fill="none" stroke="#C49A00" stroke-width="3.90" stroke-linejoin="round" stroke-linecap="butt"/>
<polyline points="1828.40,1726.90 2103.30,1734.90 2378.10,1766.80" fill="none" stroke="#53B400" stroke-width="3.90" stroke-linejoin="round" stroke-linecap="butt"/>
<polyline points="1828.40,1879.30 2103.30,2138.70 2378.10,2213.30" fill="none" stroke="#00C094" stroke-width="3.90" stroke-linejoin="round" stroke-linecap="butt"/>
<polyline points="1828.40,1948.60 2103.30,2047.90 2378.10,2049.10" fill="none" stroke="#00B6EB" stroke-width="3.90" stroke-linejoin="round" stroke-linecap="butt"/>
<polyline points="1828.40,2195.30 2103.30,2258.00 2378.10,2276.70" fill="none" stroke="#A58AFF" stroke-width="3.90" stroke-linejoin="round" stroke-linecap="butt"/>
<polyline points="1828.40,1958.90 2103.30,1996.50 2378.10,2263.40" fill="none" stroke="#FB61D7" stroke-width="3.90" stroke-linejoin="round" stroke-linecap="butt"/>
<circle cx="1826.00" cy="1724.90" r="7.50" fill="#53B400"/>
<circle cx="1826.00" cy="1907.40" r="7.50" fill="#F8766D"/>
<circle cx="1826.00" cy="1956.90" r="7.50" fill="#FB61D7"/>
<circle cx="1826.00" cy="1969.00" r="7.50" fill="#C49A00"/>
<circle cx="1826.00" cy="1877.30" r="7.50" fill="#00C094"/>
<circle cx="1826.00" cy="1946.60" r="7.50" fill="#00B6EB"/>
<circle cx="1826.00" cy="2193.30" r="7.50" fill="#A58AFF"/>
<circle cx="2100.90" cy="1732.90" r="7.50" fill="#53B400"/>
<circle cx="2100.90" cy="1962.80" r="7.50" fill="#F8766D"/>
<circle cx="2100.90" cy="1994.50" r="7.50" fill="#FB61D7"/>
<circle cx="2100.90" cy="2059.10" r="7.50" fill="#C49A00"/>
<circle cx="2100.90" cy="2136.70" r="7.50" fill="#00C094"/>
<circle cx="2100.90" cy="2045.90" r="7.50" fill="#00B6EB"/>
<circle cx="2100.90" cy="2256.00" r="7.50" fill="#A58AFF"/>
<circle cx="2375.70" cy="1764.80" r="7.50" fill="#53B400"/>
<circle cx="2375.70" cy="2086.50" r="7.50" fill="#F8766D"/>
<circle cx="2375.70" cy="2261.40" r="7.50" fill="#FB61D7"/>
<circle cx="2375.70" cy="2201.20" r="7.50" fill="#C49A00"/>
<circle cx="2375.70" cy="2211.30" r="7.50" fill="#00C094"/>
<circle cx="2375.70" cy="2047.10" r="7.50" fill="#00B6EB"/>
<circle cx="2375.70" cy="2274.70" r="7.50" fill="#A58AFF"/>
<rect x="1801.40" y="1699.40" width="604.40" height="604.20" fill="none" stroke="#000" stroke-width="3.00" stroke-linejoin="round"/>
<line x1="1828.80" y1="2305.10" x2="1828.80" y2="2312.40" stroke="#333333" stroke-width="2.70"/>
<line x1="2103.00" y1="2305.10" x2="2103.00" y2="2312.40" stroke="#333333" stroke-width="2.70"/>
<line x1="2377.80" y1="2305.10" x2="2377.80" y2="2312.40" stroke="#333333" stroke-width="2.70"/>
<line x1="1793.90" y1="1887.30" x2="1799.90" y2="1887.30" stroke="#333333" stroke-width="2.70"/>
<line x1="1793.90" y1="2020.10" x2="1799.90" y2="2020.10" stroke="#333333" stroke-width="2.70"/>
<line x1="1793.90" y1="2118.10" x2="1799.90" y2="2118.10" stroke="#333333" stroke-width="2.70"/>
<text transform="translate(1686.69,1900.20) scale(1.0129,1)" font-size="37.21">0.010</text>
<text transform="translate(1686.69,2033.00) scale(1.0150,1)" font-size="37.21">0.005</text>
<text transform="translate(1686.69,2131.00) scale(1.0150,1)" font-size="37.21">0.003</text>
<text transform="translate(1748.86,2359.80) scale(1.1019,1)" font-size="36.77">Morning</text>
<text transform="translate(2049.57,2359.80) scale(1.0623,1)" font-size="36.77">Noon</text>
<text transform="translate(2312.07,2359.80) scale(0.9970,1)" font-size="36.77">Evening</text>
<text transform="translate(1852.49,1675.90) scale(1.0021,1)" font-size="37.79">domestic departures area (C)</text>
<text transform="translate(1651.86,1672.00) scale(0.7252,1)" font-size="48.96">F</text>
<text transform="translate(1669.00,2168.90) rotate(-90) scale(0.9816,1)" font-size="38.23">Relative abundance</text>
<line x1="2491.10" y1="1826.00" x2="2542.10" y2="1826.00" stroke="#F8766D" stroke-width="7.80"/>
<circle cx="2516.50" cy="1826.00" r="11.00" fill="#F8766D"/>
<text transform="translate(2562.58,1838.00) scale(1.0277,1)" font-size="36.48" font-style="italic">Brevundimonas</text>
<text transform="translate(2833.96,1838.00) scale(1.0305,1)" font-size="36.48">sp.023456105</text>
<line x1="2491.10" y1="1889.67" x2="2542.10" y2="1889.67" stroke="#C49A00" stroke-width="7.80"/>
<circle cx="2516.50" cy="1889.67" r="11.00" fill="#C49A00"/>
<text transform="translate(2562.58,1901.77) scale(1.0253,1)" font-size="36.48" font-style="italic">Lactobacillus iners</text>
<line x1="2491.10" y1="1953.34" x2="2542.10" y2="1953.34" stroke="#53B400" stroke-width="7.80"/>
<circle cx="2516.50" cy="1953.34" r="11.00" fill="#53B400"/>
<text transform="translate(2562.52,1965.54) scale(1.0740,1)" font-size="36.48" font-style="italic">Moraxella</text>
<text transform="translate(2744.70,1965.54) scale(0.8821,1)" font-size="36.48">A</text>
<text transform="translate(2776.82,1965.54) scale(0.9886,1)" font-size="36.48" font-style="italic">osloensis</text>
<line x1="2491.10" y1="2017.01" x2="2542.10" y2="2017.01" stroke="#00C094" stroke-width="7.80"/>
<circle cx="2516.50" cy="2017.01" r="11.00" fill="#00C094"/>
<text transform="translate(2562.60,2029.31) scale(1.0081,1)" font-size="36.48" font-style="italic">Paracoccus marcusii</text>
<line x1="2491.10" y1="2080.68" x2="2542.10" y2="2080.68" stroke="#00B6EB" stroke-width="7.80"/>
<circle cx="2516.50" cy="2080.68" r="11.00" fill="#00B6EB"/>
<text transform="translate(2562.59,2093.08) scale(1.0107,1)" font-size="36.48" font-style="italic">Pelomonas</text>
<text transform="translate(2757.96,2093.08) scale(1.0265,1)" font-size="36.48">sp.003963075</text>
<line x1="2491.10" y1="2144.35" x2="2542.10" y2="2144.35" stroke="#A58AFF" stroke-width="7.80"/>
<circle cx="2516.50" cy="2144.35" r="11.00" fill="#A58AFF"/>
<text transform="translate(2562.55,2156.85) scale(1.0503,1)" font-size="36.48" font-style="italic">Ralstoniapickettii</text>
<line x1="2491.10" y1="2208.02" x2="2542.10" y2="2208.02" stroke="#FB61D7" stroke-width="7.80"/>
<circle cx="2516.50" cy="2208.02" r="11.00" fill="#FB61D7"/>
<text transform="translate(2562.59,2220.62) scale(1.0124,1)" font-size="36.48" font-style="italic">Staphylococcus cohnii</text>
</g>
</svg>
</body></html>
